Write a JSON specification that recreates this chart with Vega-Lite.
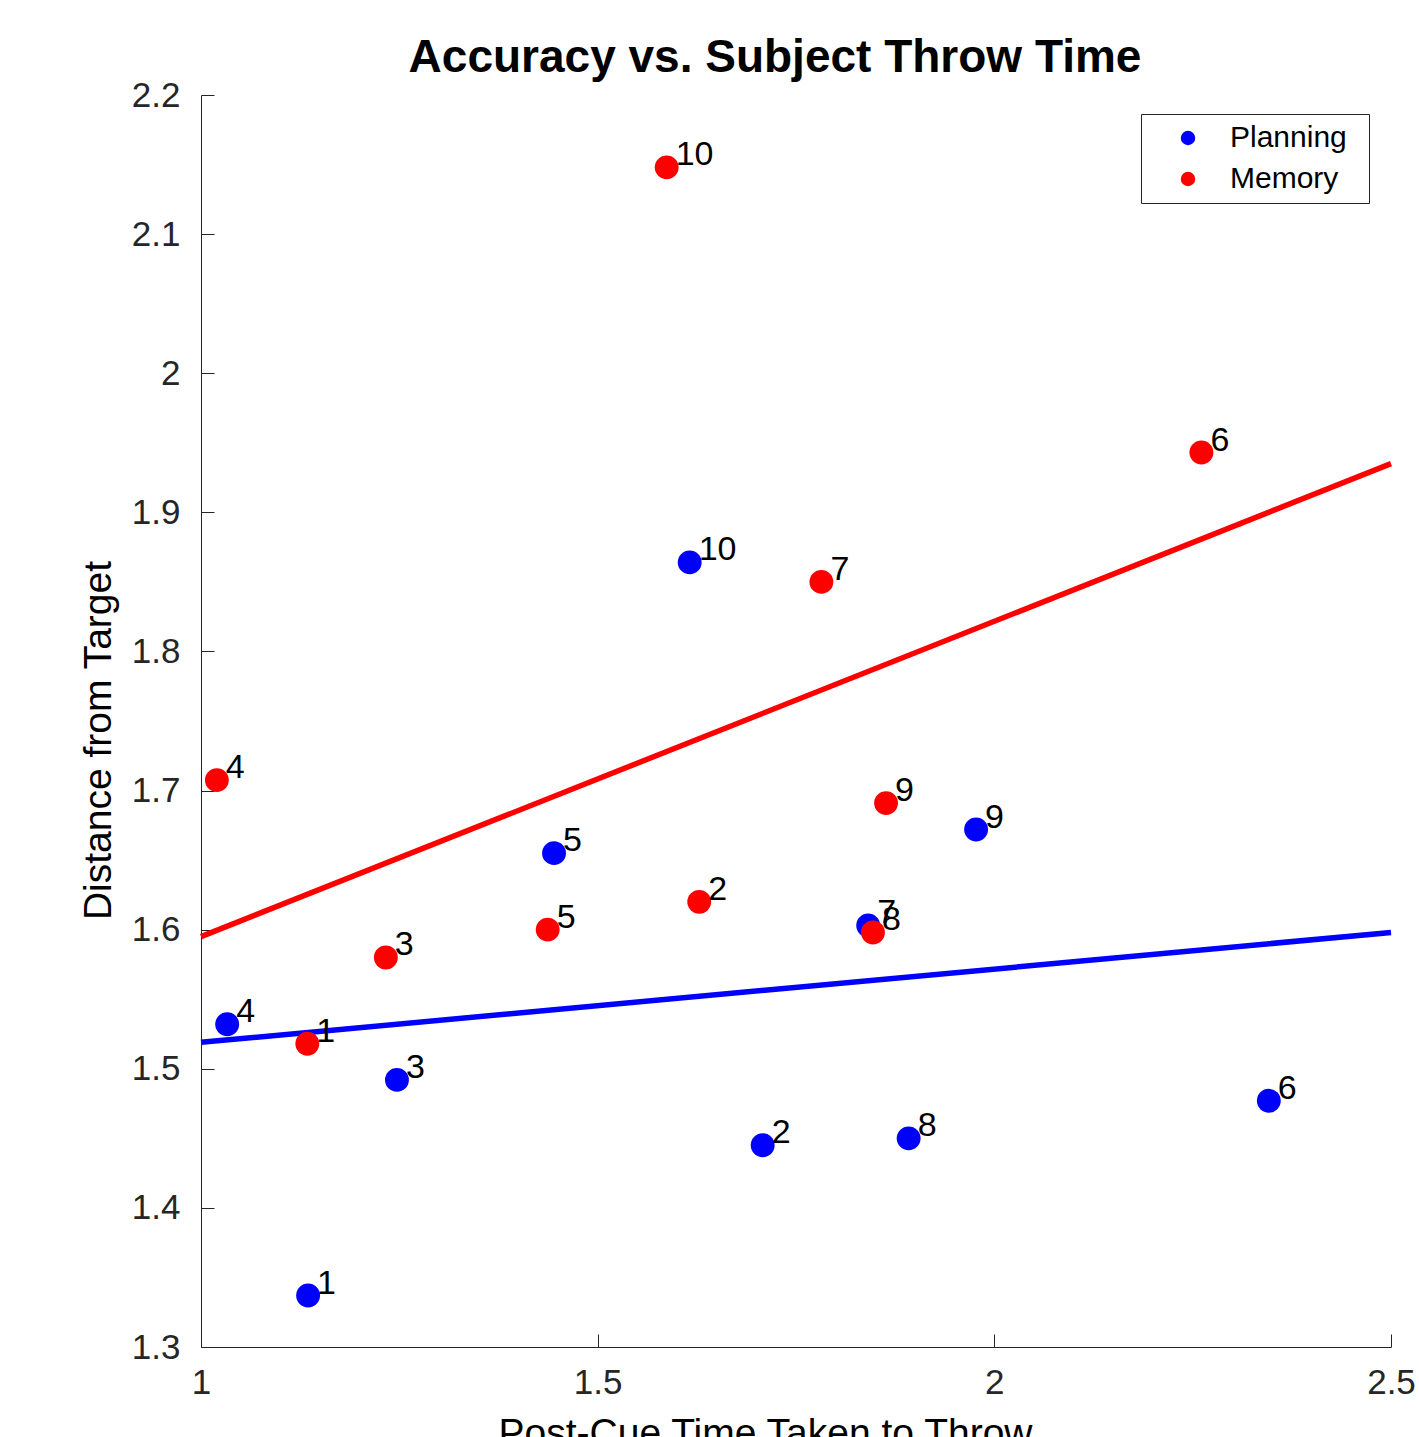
{
  "$schema": "https://vega.github.io/schema/vega-lite/v6.json",
  "width": 1190,
  "height": 1252,
  "autosize": {"type": "none"},
  "padding": {"left": 201, "top": 95, "right": 28, "bottom": 90},
  "background": "white",
  "title": {
    "text": "Accuracy vs. Subject Throw Time",
    "font": "Liberation Sans",
    "fontSize": 46,
    "fontWeight": "bold",
    "color": "#000000",
    "anchor": "middle",
    "frame": "group",
    "dx": -21,
    "offset": -4
  },
  "datasets": {
    "subjects": [
      {"group": "Planning", "subject": 1, "x": 1.135, "y": 1.337},
      {"group": "Planning", "subject": 2, "x": 1.708, "y": 1.445},
      {"group": "Planning", "subject": 3, "x": 1.247, "y": 1.492},
      {"group": "Planning", "subject": 4, "x": 1.033, "y": 1.532},
      {"group": "Planning", "subject": 5, "x": 1.445, "y": 1.655},
      {"group": "Planning", "subject": 6, "x": 2.346, "y": 1.477},
      {"group": "Planning", "subject": 7, "x": 1.841, "y": 1.603},
      {"group": "Planning", "subject": 8, "x": 1.892, "y": 1.450},
      {"group": "Planning", "subject": 9, "x": 1.977, "y": 1.672},
      {"group": "Planning", "subject": 10, "x": 1.616, "y": 1.864},
      {"group": "Memory", "subject": 1, "x": 1.134, "y": 1.518},
      {"group": "Memory", "subject": 2, "x": 1.628, "y": 1.620},
      {"group": "Memory", "subject": 3, "x": 1.233, "y": 1.580},
      {"group": "Memory", "subject": 4, "x": 1.020, "y": 1.7075},
      {"group": "Memory", "subject": 5, "x": 1.437, "y": 1.600},
      {"group": "Memory", "subject": 6, "x": 2.261, "y": 1.943},
      {"group": "Memory", "subject": 7, "x": 1.782, "y": 1.850},
      {"group": "Memory", "subject": 8, "x": 1.847, "y": 1.598},
      {"group": "Memory", "subject": 9, "x": 1.8635, "y": 1.691},
      {"group": "Memory", "subject": 10, "x": 1.587, "y": 2.148}
    ],
    "fits": [
      {"group": "Planning", "x": 1.0, "y": 1.519},
      {"group": "Planning", "x": 2.5, "y": 1.598},
      {"group": "Memory", "x": 1.0, "y": 1.595},
      {"group": "Memory", "x": 2.5, "y": 1.935}
    ]
  },
  "layer": [
    {
      "data": {"name": "fits"},
      "transform": [{"filter": "datum.group === 'Planning'"}],
      "mark": {"type": "line", "strokeWidth": 5.5, "color": "#0000ff"},
      "encoding": {
        "x": {"field": "x", "type": "quantitative", "scale": {"domain": [1, 2.5], "nice": false, "zero": false},
              "axis": {"title": "Post-Cue Time Taken to Throw", "values": [1, 1.5, 2, 2.5], "format": "~g", "labelPadding": 31, "titleX": 564, "titleY": 98, "titleBaseline": "alphabetic", "titleAlign": "center"}},
        "y": {"field": "y", "type": "quantitative", "scale": {"domain": [1.3, 2.2], "nice": false, "zero": false},
              "axis": {"title": "Distance from Target", "values": [1.3, 1.4, 1.5, 1.6, 1.7, 1.8, 1.9, 2.0, 2.1, 2.2], "format": "~g", "labelPadding": 34, "titleX": -91, "titleY": 645, "titleBaseline": "alphabetic", "titleAlign": "center", "titleAngle": -90}}
      }
    },
    {
      "data": {"name": "fits"},
      "transform": [{"filter": "datum.group === 'Memory'"}],
      "mark": {"type": "line", "strokeWidth": 5.5, "color": "#ff0000"},
      "encoding": {
        "x": {"field": "x", "type": "quantitative"},
        "y": {"field": "y", "type": "quantitative"}
      }
    },
    {
      "data": {"name": "subjects"},
      "mark": {"type": "circle", "size": 570, "opacity": 1},
      "encoding": {
        "x": {"field": "x", "type": "quantitative"},
        "y": {"field": "y", "type": "quantitative"},
        "color": {"field": "group", "type": "nominal", "scale": {"domain": ["Planning", "Memory"], "range": ["#0000ff", "#ff0000"]},
                  "legend": {"title": " ", "titleOrient": "right", "titlePadding": 13, "titleFontSize": 2, "orient": "none", "legendX": 940, "legendY": 19, "symbolType": "circle", "symbolSize": 210, "symbolOffset": 23, "labelOffset": 27, "rowPadding": 11, "padding": 9, "labelFont": "Liberation Sans", "labelFontSize": 30, "labelColor": "#000000", "strokeColor": "#262626", "fillColor": "#ffffff", "symbolStrokeWidth": 0, "symbolOpacity": 1}}
      }
    },
    {
      "data": {"name": "subjects"},
      "mark": {"type": "text", "align": "left", "baseline": "alphabetic", "dx": 9, "dy": -2, "font": "Liberation Sans", "fontSize": 34, "color": "#000000"},
      "encoding": {
        "x": {"field": "x", "type": "quantitative"},
        "y": {"field": "y", "type": "quantitative"},
        "text": {"field": "subject", "type": "nominal"}
      }
    }
  ],
  "config": {
    "view": {"stroke": null},
    "axis": {
      "grid": false,
      "domainColor": "#262626",
      "domainWidth": 1,
      "tickColor": "#262626",
      "tickWidth": 1,
      "tickSize": -13,
      "labelFont": "Liberation Sans",
      "labelFontSize": 35,
      "labelColor": "#262626",
      "labelFlush": false,
      "labelOverlap": false,
      "titleFont": "Liberation Sans",
      "titleFontSize": 39,
      "titleFontWeight": "normal",
      "titleColor": "#000000"
    }
  }
}
